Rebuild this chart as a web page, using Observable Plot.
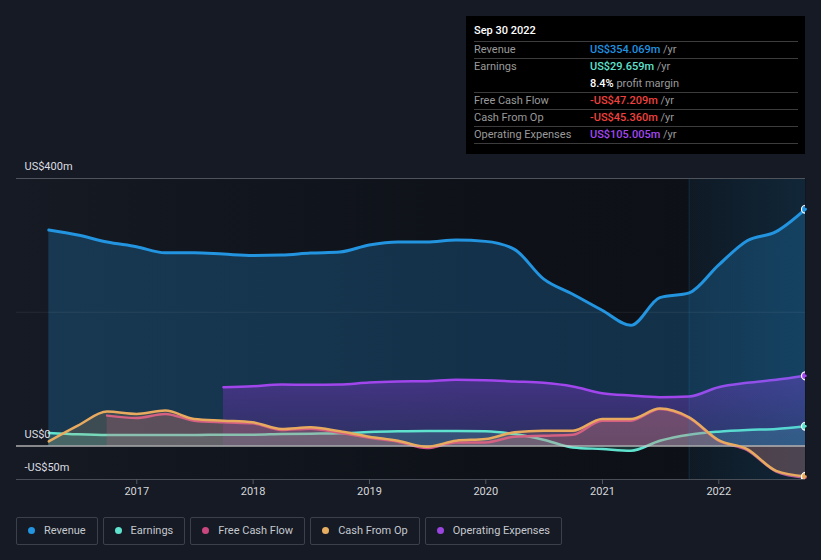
<!DOCTYPE html>
<html><head><meta charset="utf-8">
<script src="https://cdn.jsdelivr.net/npm/d3@7"></script>
<script src="https://cdn.jsdelivr.net/npm/@observablehq/plot@0.6"></script>
<style>
html,body{margin:0;padding:0;background:#151a24;}
body{width:821px;height:560px;overflow:hidden;font-family:Roboto,"Noto Sans",sans-serif;}
#wrap{position:relative;width:821px;height:560px;}
#chart svg{display:block;}
#tip{position:absolute;left:466px;top:16px;width:339px;height:138px;background:#000;box-sizing:border-box;padding:0 7px 0 8px;font-size:11px;color:#9a9a9a;}
#tip .title{height:26px;box-sizing:border-box;padding-top:8px;line-height:13px;color:#fff;font-weight:500;border-bottom:1px solid #3c3c3c;}
#tip .row{display:flex;height:17px;box-sizing:border-box;line-height:14px;padding-top:1px;border-bottom:1px solid #3c3c3c;white-space:pre;}
#tip .row.nb{border-bottom:1px solid transparent;}
#tip .lab{width:116px;}
#tip .val{font-weight:500;}
#legend{position:absolute;left:16px;top:517px;display:flex;gap:5px;}
.item{height:28px;box-sizing:border-box;border:1px solid #3b404a;border-radius:2px;display:flex;align-items:center;padding:0 11px 1px 11px;font-size:11px;color:#c5c8ce;}
.dot{width:7px;height:7px;border-radius:50%;margin-right:9px;}
</style>
</head><body>
<div id="wrap">
<div id="chart"></div>
<div id="tip"></div>
<div id="legend"></div>
</div>
<script>
// ---- data ----
const quarters = ["2016-03-31","2016-06-30","2016-09-30","2016-12-31","2017-03-31","2017-06-30","2017-09-30","2017-12-31",
"2018-03-31","2018-06-30","2018-09-30","2018-12-31","2019-03-31","2019-06-30","2019-09-30","2019-12-31",
"2020-03-31","2020-06-30","2020-09-30","2020-12-31","2021-03-31","2021-06-30","2021-09-30","2021-12-31",
"2022-03-31","2022-06-30","2022-09-30"];
const revenue = [323,315.6,305,298,289,289,287,285,285.5,288.5,290,300.5,305,305,308,306,294,250,227,203,180.5,222,229,270.5,307,320.5,354.069];
const earnings = [19.5,17.5,16.5,16.5,16.5,16.5,17,17,18,18.5,19,21,22,22.5,22.5,22,18,9.5,-2,-4.5,-7,8,17,21.5,24,25.5,29.659];
const freeCashFlow = [null,null,45.5,42,48,38,35.5,34,24,26,20,12.5,6.5,-3,5.5,5.5,14,15.5,17,38,38,55.5,42,8,-6,-38,-47.209];
const cashFromOp = [7,30.5,51.5,48,53,40.5,38,35.5,25.5,28,22,14,8,-1,8,10.5,20.5,23,23,40.5,40.5,56,43,9,-4.5,-37,-45.36];
const opExpenses = [null,null,null,null,null,null,88,89.5,92,91.5,92,95,96.5,97,99,98.5,96.5,94.5,89,79,75.5,73,74,88,94.5,99,105.005];

const yTickValues = [400, 0, -50];
const yTickLabels = ["US$400m", "US$0", "-US$50m"];
const xTickYears = [2017, 2018, 2019, 2020, 2021, 2022];
const highlightStart = "2021-09-30";

const seriesNames = ["Revenue","Earnings","Free Cash Flow","Cash From Op","Operating Expenses"];
const seriesColors = ["#2394df","#5fe3cf","#d0508a","#e8aa5e","#a146ec"];
const legendDots = ["#2394df","#5fe3cf","#c9477e","#e7ae62","#9b45e0"];

const tipTitle = "Sep 30 2022";
const tipRows = [
  {label:"Revenue", value:"US$354.069m", color:"#1f93e0", unit:" /yr"},
  {label:"Earnings", value:"US$29.659m", color:"#5fe3cf", unit:" /yr", nb:true},
  {label:"", value:"8.4%", color:"#ffffff", unit:" profit margin"},
  {label:"Free Cash Flow", value:"-US$47.209m", color:"#f0403e", unit:" /yr"},
  {label:"Cash From Op", value:"-US$45.360m", color:"#f0403e", unit:" /yr"},
  {label:"Operating Expenses", value:"US$105.005m", color:"#a348f0", unit:" /yr"}
];

// ---- table ----
const rows = quarters.map((q,i)=>({date:new Date(q), revenue:revenue[i], earnings:earnings[i], fcf:freeCashFlow[i], cfo:cashFromOp[i], opex:opExpenses[i]}));
const last = rows[rows.length-1];
const curve = "monotone-x";
const hl = [{start:new Date(highlightStart), end:last.date}];
const endDots = [
  {date:last.date, v:last.revenue, c:seriesColors[0]},
  {date:last.date, v:last.opex, c:seriesColors[4]},
  {date:last.date, v:last.earnings, c:seriesColors[1]},
  {date:last.date, v:last.fcf, c:seriesColors[2]},
  {date:last.date, v:last.cfo, c:seriesColors[3]}
];
const has = k => rows.filter(d => d[k] != null);
const area = (k, opts) => Plot.areaY(has(k), {x:"date", y1:0, y2:k, curve, ...opts});
const line = (k, opts) => Plot.lineY(has(k), {x:"date", y:k, curve, ...opts});

const chart = Plot.plot({
  width: 821, height: 505,
  marginLeft: 16, marginRight: 16, marginTop: 178, marginBottom: 26,
  style: {background:"transparent", fontFamily:"Roboto, sans-serif", fontSize:"11px", color:"#d8d9dc"},
  x: {type:"utc", domain:[rows[0].date, last.date], range:[48.3, 805], axis:null},
  y: {domain:[-50, 400], axis:null},
  marks: [
    Plot.frame({fill:"url(#bgGrad)", stroke:"none"}),
    area("revenue", {fill:"#2394df", fillOpacity:0.25}),
    line("revenue", {stroke:seriesColors[0], strokeWidth:3}),
    area("opex", {fill:"url(#opGrad)"}),
    line("opex", {stroke:seriesColors[4], strokeWidth:2.5}),
    area("earnings", {fill:seriesColors[1], fillOpacity:0.18}),
    line("earnings", {stroke:seriesColors[1], strokeWidth:2.5}),
    area("fcf", {fill:seriesColors[2], fillOpacity:0.2}),
    line("fcf", {stroke:seriesColors[2], strokeWidth:2.5}),
    area("cfo", {fill:seriesColors[3], fillOpacity:0.18}),
    Plot.rect(hl, {x1:"start", x2:"end", y1:-50, y2:400, fill:"url(#hlGrad)"}),
    Plot.ruleX(hl, {x:"start", y1:-50, y2:400, stroke:"#2394df", strokeOpacity:0.15}),
    Plot.ruleY([200], {stroke:"#ffffff", strokeOpacity:0.07}),
    Plot.ruleY([400], {stroke:"#4f535b"}),
    Plot.ruleY([-50], {stroke:"#4a4e56"}),
    Plot.ruleY([0], {stroke:"#c8c8c8", strokeWidth:1.5, strokeOpacity:0.85}),
    line("cfo", {stroke:seriesColors[3], strokeWidth:2.5}),
    Plot.dot(endDots, {x:"date", y:"v", fill:"c", r:4, stroke:"#ffffff", strokeWidth:1.2, clip:"frame"}),
    Plot.axisX({ticks: xTickYears.map(y=>new Date(Date.UTC(y,0,1))), tickFormat: d3.utcFormat("%Y"), tickSize:5, tickPadding:3, stroke:"#555a63", fill:"#d6d7da", fontSize:11, label:null}),
    Plot.text(yTickValues, {y:d=>d, text:(d,i)=>yTickLabels[i], frameAnchor:"left", dx:8, dy:-12, textAnchor:"start", lineAnchor:"middle", fill:"#dcdde0", fontSize:11})
  ]
});

const svg = d3.select(chart);
const defs = svg.insert("defs", ":first-child");
const bg = defs.append("linearGradient").attr("id","bgGrad").attr("x1",0).attr("x2",1).attr("y1",0).attr("y2",0);
bg.append("stop").attr("offset",0).attr("stop-color","#151a24");
bg.append("stop").attr("offset",0.06).attr("stop-color","#141922");
bg.append("stop").attr("offset",0.6).attr("stop-color","#0e1118");
bg.append("stop").attr("offset",1).attr("stop-color","#0d1016");
const hg = defs.append("linearGradient").attr("id","hlGrad").attr("x1",0).attr("x2",1).attr("y1",0).attr("y2",0);
hg.append("stop").attr("offset",0).attr("stop-color","#2394df").attr("stop-opacity",0.07);
hg.append("stop").attr("offset",1).attr("stop-color","#2394df").attr("stop-opacity",0.17);
const og = defs.append("linearGradient").attr("id","opGrad").attr("x1",0).attr("x2",0).attr("y1",0).attr("y2",1);
og.append("stop").attr("offset",0).attr("stop-color","#5a35a0").attr("stop-opacity",0.7);
og.append("stop").attr("offset",1).attr("stop-color","#4a2f80").attr("stop-opacity",0.45);

document.getElementById("chart").appendChild(chart);

// tooltip
const tip = document.getElementById("tip");
let html = `<div class="title">${tipTitle}</div>`;
for (const r of tipRows) {
  html += `<div class="row${r.nb?" nb":""}"><span class="lab">${r.label}</span><span class="val" style="color:${r.color}">${r.value}</span><span>${r.unit}</span></div>`;
}
tip.innerHTML = html;

// legend
const legend = document.getElementById("legend");
seriesNames.forEach((n,i)=>{
  const it = document.createElement("div");
  it.className = "item";
  it.innerHTML = `<span class="dot" style="background:${legendDots[i]}"></span><span>${n}</span>`;
  legend.appendChild(it);
});
</script>
</body></html>
